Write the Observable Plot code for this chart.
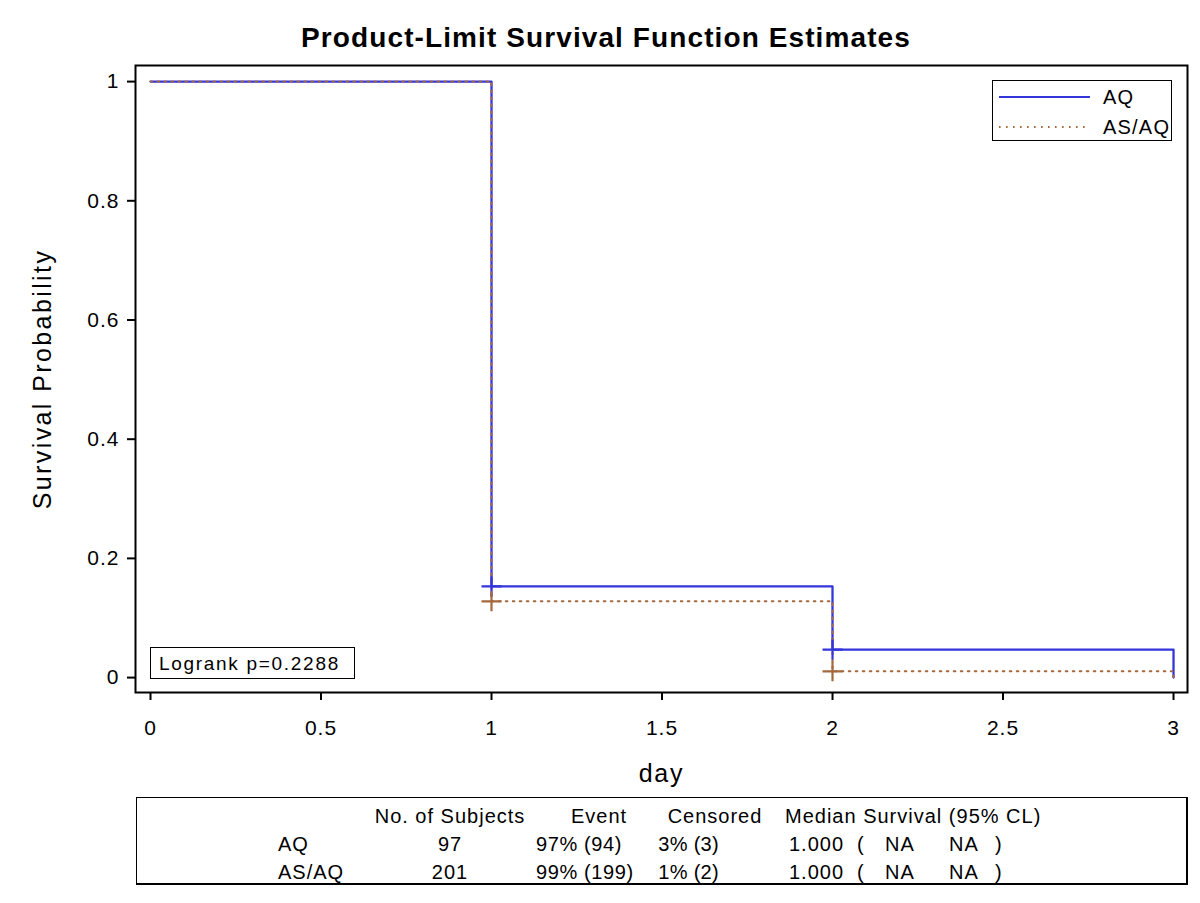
<!DOCTYPE html>
<html>
<head>
<meta charset="utf-8">
<script src="https://cdn.jsdelivr.net/npm/d3@7"></script>
<script src="https://cdn.jsdelivr.net/npm/@observablehq/plot@0.6"></script>
<style>
  html, body { margin: 0; padding: 0; background: #fff; }
  body { width: 1200px; height: 903px; position: relative; overflow: hidden; font-family: "Liberation Sans", Arial, sans-serif; color: #000; }
  .abs { position: absolute; white-space: pre; line-height: 1; }
  #title { position: absolute; left: 0; top: 0; width: 1200px; height: 55px; }
  #title div { position: absolute; left: 606px; top: 38px; transform: translate(-50%, -50%); font-weight: bold; font-size: 28px; letter-spacing: 1.1px; white-space: pre; }
  #chart { position: absolute; left: 0; top: 55px; }
  #chart svg text { letter-spacing: 1px; }
  #chart svg text.ylab { letter-spacing: 2.4px; }
  #chart svg text.xlab { letter-spacing: 1.8px; }
  #legend { position: absolute; left: 992px; top: 80px; width: 180px; height: 61px; border: 1.5px solid #000; box-sizing: border-box; background: #fff; }
  #logrank { position: absolute; left: 150px; top: 647px; width: 205px; height: 32px; border: 1.5px solid #000; box-sizing: border-box; background: #fff; }
  #table { position: absolute; left: 136px; top: 797px; width: 1052px; height: 88px; border: 1.5px solid #000; border-right-width: 2px; border-bottom-width: 2.5px; box-sizing: border-box; }
</style>
</head>
<body>
<div id="title"><div>Product-Limit Survival Function Estimates</div></div>
<div id="chart"></div>
<div id="logrank"></div>
<div id="legend"></div>
<div id="table"></div>
<script>
// ---- data ----
const groups = ["AQ", "AS/AQ"];
const colors = ["#3535dc", "#a5683c"];
const days = [0, 1, 2, 3];
const survAQ = [1, 0.153, 0.047, 0];
const survASAQ = [1, 0.128, 0.0105, 0];
const censorDaysAQ = [1, 2];
const censorSurvAQ = [0.153, 0.047];
const censorDaysASAQ = [1, 2];
const censorSurvASAQ = [0.128, 0.0105];
const xTicks = [0, 0.5, 1, 1.5, 2, 2.5, 3];
const yTicks = [0, 0.2, 0.4, 0.6, 0.8, 1];
const logrankText = "Logrank p=0.2288";
const tableHeader = ["No. of Subjects", "Event", "Censored", "Median Survival (95% CL)"];
const nSubjects = ["97", "201"];
const eventText = ["97% (94)", "99% (199)"];
const censoredText = ["3% (3)", "1% (2)"];
const medianText = ["1.000", "1.000"];
const lowerCL = ["NA", "NA"];
const upperCL = ["NA", "NA"];

// ---- build tables for Plot ----
const curveAQ = days.map((d, i) => ({day: d, s: survAQ[i]}));
const curveASAQ = days.map((d, i) => ({day: d, s: survASAQ[i]}));
const censAQ = censorDaysAQ.map((d, i) => ({day: d, s: censorSurvAQ[i]}));
const censASAQ = censorDaysASAQ.map((d, i) => ({day: d, s: censorSurvASAQ[i]}));

const font = "'Liberation Sans', Arial, sans-serif";
const chart = Plot.plot({
  width: 1200,
  height: 740,
  marginLeft: 135,
  marginRight: 13,
  marginTop: 10,
  marginBottom: 103,
  style: {fontFamily: font, fontSize: "21px", color: "#000", background: "#fff"},
  x: {domain: [-0.044, 3.041]},
  y: {domain: [-0.025, 1.027]},
  marks: [
    Plot.axisX({ticks: xTicks, tickFormat: d => String(d), tickSize: 8, tickPadding: 20, strokeWidth: 2, fontSize: 21, label: null}),
    Plot.axisY({ticks: yTicks, tickFormat: d => String(d), tickSize: 8, tickPadding: 8, strokeWidth: 2, fontSize: 21, label: null}),
    Plot.line(curveAQ, {x: "day", y: "s", curve: "step-after", stroke: colors[0], strokeWidth: 2.3}),
    Plot.line(curveASAQ, {x: "day", y: "s", curve: "step-after", stroke: colors[1], strokeWidth: 2, strokeDasharray: "1.6 5.4"}),
    Plot.dot(censAQ, {x: "day", y: "s", symbol: "plus", r: 6.5, stroke: colors[0], strokeWidth: 2.2}),
    Plot.dot(censASAQ, {x: "day", y: "s", symbol: "plus", r: 6.5, stroke: colors[1], strokeWidth: 2.2}),
    Plot.frame({stroke: "#000", strokeWidth: 2}),
    Plot.text(["day"], {frameAnchor: "bottom", dy: 81, text: d => d, fontSize: 25, lineAnchor: "middle", className: "xlab"}),
    Plot.text(["Survival Probability"], {frameAnchor: "left", dx: -93, rotate: -90, text: d => d, fontSize: 25, lineAnchor: "middle", textAnchor: "middle", className: "ylab"})
  ]
});
document.getElementById("chart").appendChild(chart);
chart.querySelectorAll("g.xlab text").forEach(t => t.classList.add("xlab"));
chart.querySelectorAll("g.ylab text").forEach(t => t.classList.add("ylab"));

// ---- helpers for HTML texts ----
function place(parent, text, x, y, anchor, size, extra) {
  const el = document.createElement("div");
  el.className = "abs";
  el.textContent = text;
  el.style.left = x + "px";
  el.style.top = y + "px";
  el.style.fontSize = size + "px";
  el.style.letterSpacing = (extra ?? 1.0) + "px";
  const tx = anchor === "middle" ? "-50%" : anchor === "end" ? "-100%" : "0";
  el.style.transform = `translate(${tx}, -50%)`;
  parent.appendChild(el);
  return el;
}

// logrank box (relative coords)
const lr = document.getElementById("logrank");
place(lr, logrankText, 8, 15, "start", 19, 1.7);

// legend
const lg = document.getElementById("legend");
const lsvg = document.createElementNS("http://www.w3.org/2000/svg", "svg");
lsvg.setAttribute("width", 180); lsvg.setAttribute("height", 61);
lsvg.style.position = "absolute"; lsvg.style.left = "-1.5px"; lsvg.style.top = "-1.5px";
const legendY = [17, 47];
groups.forEach((g, i) => {
  const ln = document.createElementNS("http://www.w3.org/2000/svg", "line");
  ln.setAttribute("x1", 7); ln.setAttribute("x2", 98);
  ln.setAttribute("y1", legendY[i]); ln.setAttribute("y2", legendY[i]);
  ln.setAttribute("stroke", colors[i]); ln.setAttribute("stroke-width", 2);
  if (i === 1) ln.setAttribute("stroke-dasharray", "1.6 5.4");
  lsvg.appendChild(ln);
});
lg.appendChild(lsvg);
groups.forEach((g, i) => place(lg, g, 110, legendY[i] - 1.5, "start", 20, 1.2));

// table (relative to table box at left 136, top 797)
const tb = document.getElementById("table");
const ox = 136, oy = 797;
const rowY = [815, 843, 871].map(v => v - oy);
place(tb, tableHeader[0], 449 - ox, rowY[0], "middle", 20);
place(tb, tableHeader[1], 598 - ox, rowY[0], "middle", 20);
place(tb, tableHeader[2], 714 - ox, rowY[0], "middle", 20);
place(tb, tableHeader[3], 784 - ox, rowY[0], "start", 20);
groups.forEach((g, i) => {
  const y = rowY[i + 1];
  place(tb, g, 277 - ox, y, "start", 20);
  place(tb, nSubjects[i], 449 - ox, y, "middle", 20);
  place(tb, eventText[i], 535 - ox, y, "start", 20, 0.6);
  place(tb, censoredText[i], 718 - ox, y, "end", 20, 0.3);
  place(tb, medianText[i], 788 - ox, y, "start", 20);
  place(tb, "(", 856 - ox, y, "start", 20);
  place(tb, lowerCL[i], 884 - ox, y, "start", 20);
  place(tb, upperCL[i], 948 - ox, y, "start", 20);
  place(tb, ")", 994 - ox, y, "start", 20);
});
</script>
</body>
</html>
